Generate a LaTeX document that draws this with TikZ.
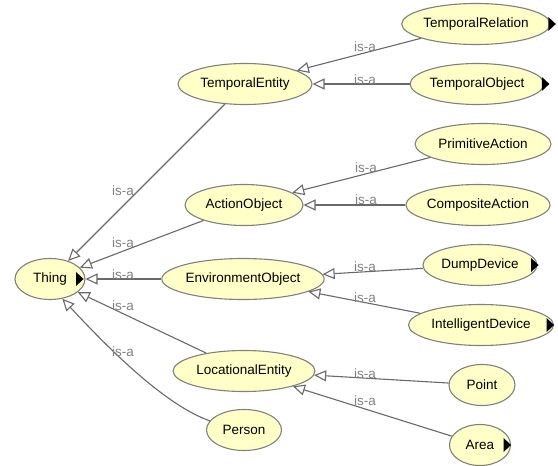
\documentclass[tikz,border=0pt]{standalone}
\usepackage{fontspec}
\setmainfont{Liberation Sans}
\usetikzlibrary{shapes.geometric,arrows.meta}
\definecolor{clsfill}{RGB}{255,255,200}
\definecolor{clsdraw}{RGB}{128,128,128}
\definecolor{edgecol}{RGB}{105,105,105}
\definecolor{lblcol}{RGB}{128,128,128}
\tikzset{
  cls/.style={ellipse, draw=clsdraw, fill=clsfill, line width=1.1pt, inner sep=0pt,
    minimum height=41pt, font=\fontsize{13.5}{16}\selectfont},
  isa/.style={draw=edgecol, line width=1.1pt,
    -{Triangle[length=12pt,width=11pt,fill=white,line width=1.1pt]}},
  lbl/.style={text=lblcol, inner sep=0pt, font=\fontsize{13.5}{16}\selectfont},
}
\newcommand\subtri[2]{\fill ([xshift=#2]#1.east) -- ++(-7.5,-7) -- ++(0,14) -- cycle;}
\begin{document}
\begin{tikzpicture}[x=1pt,y=-1pt]
\useasboundingbox (0,0) rectangle (558,466);
% nodes
\node[cls, minimum width=70pt]  (thing)   at (50,279)  {Thing\hspace{10pt}};
\node[cls, minimum width=134pt] (tempent) at (245,84)  {TemporalEntity};
\node[cls, minimum width=146pt] (temprel) at (476,24)  {TemporalRelation\hspace{4pt}};
\node[cls, minimum width=133pt] (tempobj) at (477,84)  {TemporalObject\hspace{4pt}};
\node[cls, minimum width=118pt] (actobj)  at (244,205) {ActionObject};
\node[cls, minimum width=136pt] (primact) at (483,144) {PrimitiveAction};
\node[cls, minimum width=139pt] (compact) at (478,205) {CompositeAction};
\node[cls, minimum width=160pt] (envobj)  at (243,279) {EnvironmentObject};
\node[cls, minimum width=114pt] (dump)    at (480,265) {DumpDevice\hspace{4pt}};
\node[cls, minimum width=145pt] (intel)   at (481,325) {IntelligentDevice\hspace{4pt}};
\node[cls, minimum width=142pt] (locent)  at (244,371) {LocationalEntity};
\node[cls, minimum width=66pt]  (point)   at (482,385) {Point};
\node[cls, minimum width=61pt]  (area)    at (480,445) {Area\hspace{8pt}};
\node[cls, minimum width=75pt]  (person)  at (244,430) {Person};
% subclass markers
\subtri{thing}{-2}
\subtri{temprel}{5}
\subtri{tempobj}{5}
\subtri{dump}{1}
\subtri{intel}{0}
\subtri{area}{0}
% edges
\draw[isa] (temprel) -- (tempent);
\draw[isa] (tempobj) -- (tempent);
\draw[isa] (primact) -- (actobj);
\draw[isa] (compact) -- (actobj);
\draw[isa] (dump) -- (envobj);
\draw[isa] (intel) -- (envobj);
\draw[isa] (point) -- (locent);
\draw[isa] (area) -- (locent);
\draw[isa] (tempent) -- (thing);
\draw[isa] (actobj) -- (thing);
\draw[isa] (envobj) -- (thing);
\draw[isa] (locent) -- (thing);
\draw[isa] (person.165) .. controls (165,405) and (110,350) .. (thing.-58);
% labels
\node[lbl] (l1)  at (365,47)  {is-a};
\node[lbl] (l2)  at (365,80)  {is-a};
\node[lbl] (l3)  at (366,168) {is-a};
\node[lbl] (l4)  at (366,200) {is-a};
\node[lbl] (l5)  at (365,267) {is-a};
\node[lbl] (l6)  at (365,298) {is-a};
\node[lbl] (l7)  at (365,374) {is-a};
\node[lbl] (l8)  at (365,401) {is-a};
\node[lbl] (l9)  at (123,191) {is-a};
\node[lbl] (l10) at (123,243) {is-a};
\node[lbl] (l11) at (123,275) {is-a};
\node[lbl] (l12) at (123,306) {is-a};
\node[lbl] (l13) at (123,352) {is-a};
\end{tikzpicture}
\end{document}
